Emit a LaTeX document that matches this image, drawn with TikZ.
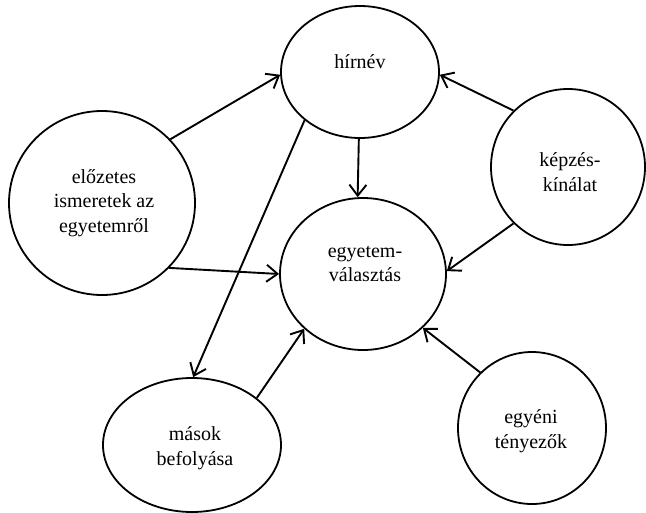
\documentclass[tikz,border=0pt]{standalone}
\usepackage{fontspec}
\setmainfont{Liberation Serif}
\usetikzlibrary{shapes.geometric,arrows.meta}
\begin{document}
\begin{tikzpicture}[x=1pt,y=-1pt,
  bubble/.style={ellipse,draw,line width=1.8pt,inner sep=0pt},
  lbl/.style={align=center,font=\fontsize{20}{24.5}\selectfont,inner sep=0pt},
  link/.style={line width=1.9pt,-{Straight Barb[length=11pt,width=17pt]}}]
\useasboundingbox (0,0) rectangle (646,512);
% shapes
\node[bubble,minimum width=186pt,minimum height=184pt] (elo) at (102,203) {};
\node[bubble,minimum width=158pt,minimum height=132pt] (hir) at (360,72) {};
\node[bubble,minimum width=166pt,minimum height=152pt] (egy) at (363,274) {};
\node[bubble,minimum width=154pt,minimum height=156pt] (kep) at (568,167) {};
\node[bubble,minimum width=178pt,minimum height=134pt] (mas) at (192,445) {};
\node[bubble,minimum width=148pt,minimum height=152pt] (egyeni) at (532,428) {};
% texts
\node[lbl] (eloT) at (104,202.8) {előzetes\\ismeretek az\\egyetemről};
\node[lbl] (hirT) at (360,61.2) {hírnév};
\node[lbl] (egyT) at (365,264.2) {egyetem-\\választás};
\node[lbl] (kepT) at (570,172.2) {képzés-\\kínálat};
\node[lbl] (masT) at (195,448.3) {mások\\befolyása};
\node[lbl] (egyeniT) at (531,431.4) {egyéni\\tényezők};
% connectors
\draw[link] (elo.43.7) -- (hir.182);
\draw[link] (kep.134) -- (hir.-2);
\draw[link] (hir.269) -- (egy.94);
\draw[link] (hir.221) -- (mas.89);
\draw[link] (elo.-44) -- (egy.180);
\draw[link] (kep.226) -- (egy.2);
\draw[link] (mas.36.7) -- (egy.223.5);
\draw[link] (egyeni.133) -- (egy.-42.5);
\end{tikzpicture}
\end{document}
